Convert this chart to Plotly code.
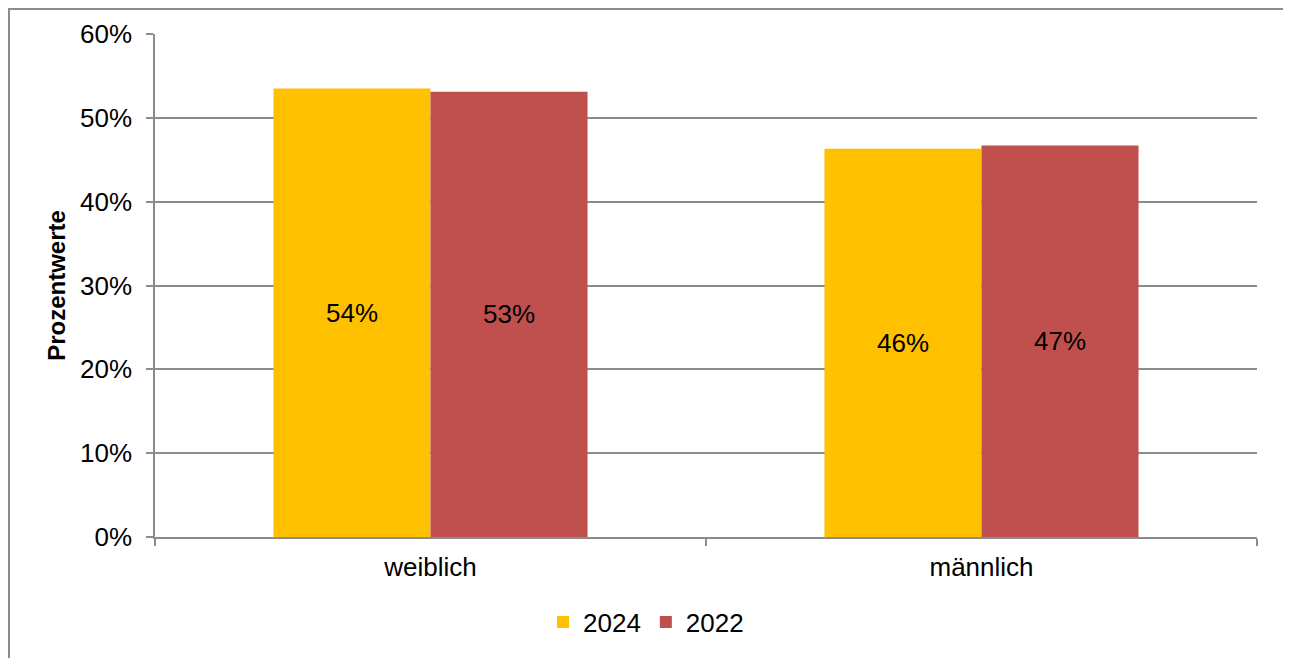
import plotly.graph_objects as go

categories = ["weiblich", "männlich"]
years = ["2024", "2022"]
values_2024 = [53.5, 46.3]
values_2022 = [53.1, 46.7]
colors = ["#FFC000", "#C0504D"]
y_ticks = [0, 10, 20, 30, 40, 50, 60]
y_tick_labels = [f"{v}%" for v in y_ticks]

FONT = "Liberation Sans, Arial, sans-serif"
GRAY = "#8C8C8C"

fig = go.Figure()
for name, vals, col in zip(years, [values_2024, values_2022], colors):
    fig.add_trace(go.Bar(
        x=categories, y=vals, name=name,
        marker=dict(color=col, line=dict(width=0)),
        texttemplate="%{y:.0f}%", textposition="inside",
        insidetextanchor="middle", textangle=0,
        insidetextfont=dict(family=FONT, size=26, color="black"),
        constraintext="none",
    ))

# page body has an 8px margin; figure coordinates are screen minus 8
OFF = 8
W, H = 1291 - OFF, 658 - OFF
L, T = 155 - OFF, 34 - OFF
R = 1291 - 1257
B = 658 - 537
pw, ph = W - L - R, H - T - B

def px(x):
    return (x - OFF - L) / pw

def py(y):
    return (H - B - (y - OFF)) / ph

fig.update_layout(
    width=W, height=H,
    margin=dict(l=L, r=R, t=T, b=B, autoexpand=False),
    paper_bgcolor="white", plot_bgcolor="white",
    barmode="group", bargap=0.43, bargroupgap=0,
    font=dict(family=FONT, size=26, color="black"),
    showlegend=True,
    legend=dict(orientation="h", x=px(646), y=py(622), xanchor="center", yanchor="middle",
                font=dict(family=FONT, size=26, color="black"),
                itemwidth=30, tracegroupgap=0, itemclick=False),
    xaxis=dict(
        type="category", tickson="boundaries", ticks="outside", ticklen=7,
        tickcolor=GRAY, tickwidth=1.5, showline=True, linecolor=GRAY, linewidth=1.5,
        showgrid=False, tickfont=dict(family=FONT, size=26, color="black"),
        ticklabelstandoff=6,
    ),
    yaxis=dict(
        range=[0, 60], tickvals=y_ticks, ticktext=y_tick_labels, ticks="outside", ticklen=7,
        tickcolor=GRAY, tickwidth=1.5, showline=True, linecolor=GRAY, linewidth=1.5,
        showgrid=True, gridcolor=GRAY, gridwidth=1.5, zeroline=False,
        tickfont=dict(family=FONT, size=26, color="black"),
        ticklabelstandoff=9,
        title=dict(text="<b>Prozentwerte</b>", font=dict(family=FONT, size=24, color="black"),
                   standoff=8),
    ),
    shapes=[dict(type="rect", xref="paper", yref="paper",
                 x0=px(9), x1=px(1286), y0=py(720), y1=py(9),
                 line=dict(color=GRAY, width=2), fillcolor="rgba(0,0,0,0)", layer="below")],
)

fig.write_html("out.html")
